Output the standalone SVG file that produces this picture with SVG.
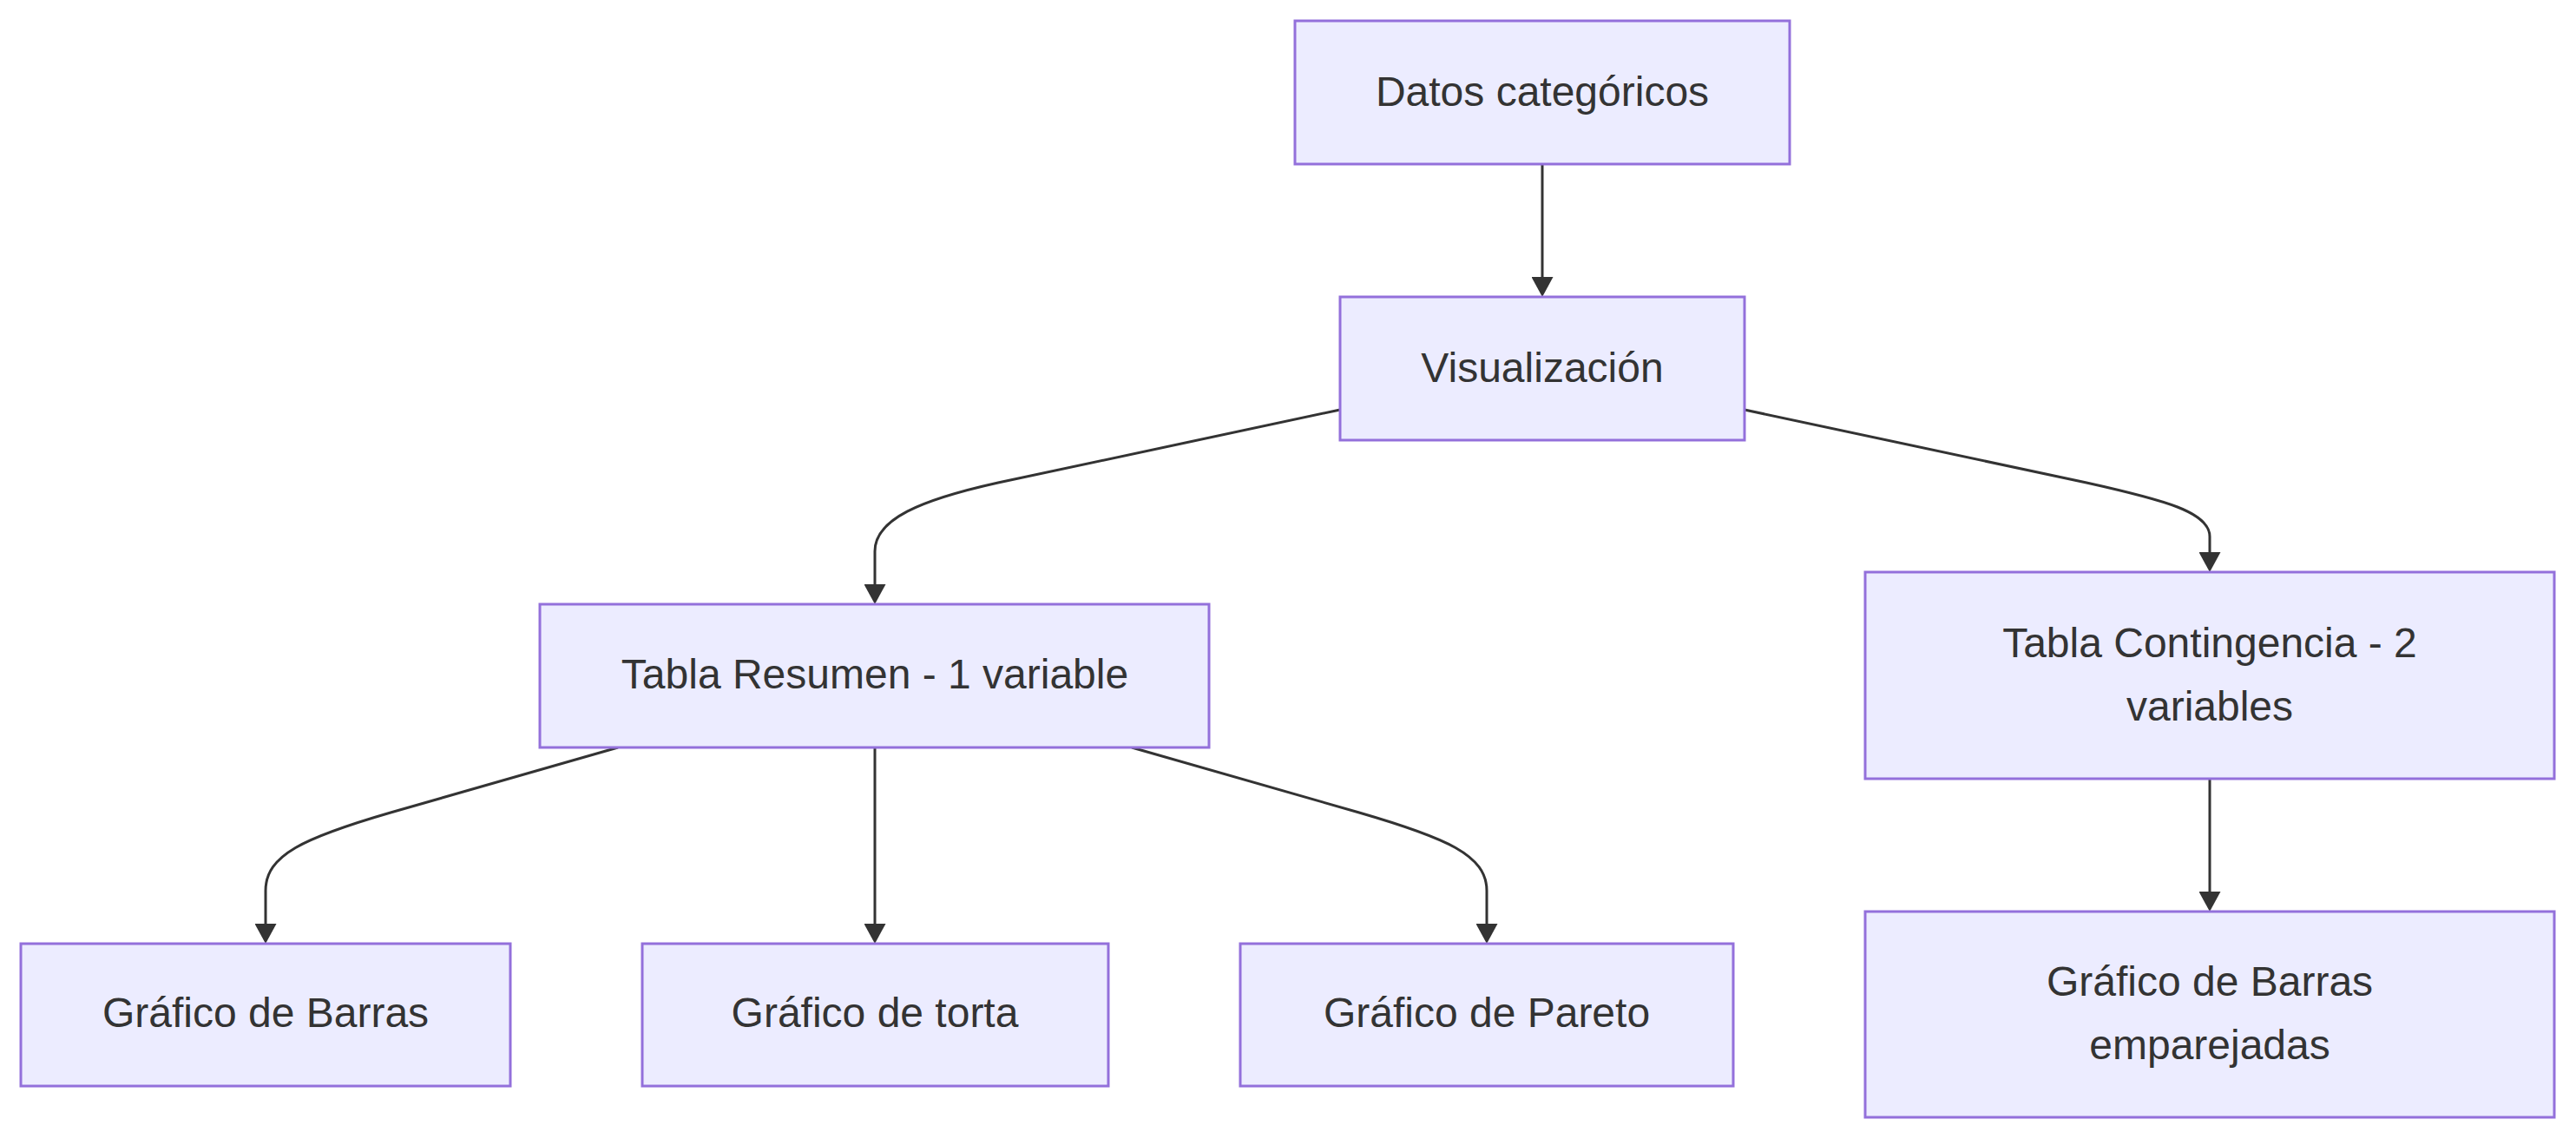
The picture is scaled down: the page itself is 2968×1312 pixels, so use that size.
<svg xmlns="http://www.w3.org/2000/svg" width="2968" height="1312" viewBox="0 0 2968 1312">
<style>
.node rect{fill:#ECECFF;stroke:#9370DB;stroke-width:3}
.node text{font-family:"Liberation Sans",Arial,sans-serif;font-size:48px;fill:#333333;text-anchor:middle}
.edge{fill:none;stroke:#333333;stroke-width:3}
</style>
<defs>
<marker id="arrow" viewBox="0 0 23 25" refX="18" refY="12.5" markerWidth="23" markerHeight="25" markerUnits="userSpaceOnUse" orient="auto">
<path d="M0,0 L23,12.5 L0,25 z" fill="#333333"/>
</marker>
</defs>
<rect width="2968" height="1312" fill="#ffffff"/>
<g id="connectors">
<path class="edge" d="M1777,189 L1777,337" marker-end="url(#arrow)"/>
<path class="edge" d="M1544,472 L1150,556 C1060,576 1008,598 1008,635 L1008,691" marker-end="url(#arrow)"/>
<path class="edge" d="M2010,472 L2404,556 C2494,576 2546,590 2546,618 L2546,654" marker-end="url(#arrow)"/>
<path class="edge" d="M712,861 L450,936 C350,965 306,985 306,1026 L306,1082" marker-end="url(#arrow)"/>
<path class="edge" d="M1008,861 L1008,1082" marker-end="url(#arrow)"/>
<path class="edge" d="M1304,861 L1566,936 C1666,965 1713,985 1713,1026 L1713,1082" marker-end="url(#arrow)"/>
<path class="edge" d="M2546,897 L2546,1045" marker-end="url(#arrow)"/>
</g>
<g id="datos" class="node">
<rect x="1492" y="24" width="570" height="165"/>
<text x="1777" y="122">Datos categóricos</text>
</g>
<g id="visualizacion" class="node">
<rect x="1544" y="342" width="466" height="165"/>
<text x="1777" y="440">Visualización</text>
</g>
<g id="tabla-resumen" class="node">
<rect x="622" y="696" width="771" height="165"/>
<text x="1008" y="793">Tabla Resumen - 1 variable</text>
</g>
<g id="tabla-contingencia" class="node">
<rect x="2149" y="659" width="794" height="238"/>
<text x="2546" y="757">Tabla Contingencia - 2</text>
<text x="2546" y="830">variables</text>
</g>
<g id="grafico-barras" class="node">
<rect x="24" y="1087" width="564" height="164"/>
<text x="306" y="1183">Gráfico de Barras</text>
</g>
<g id="grafico-torta" class="node">
<rect x="740" y="1087" width="537" height="164"/>
<text x="1008" y="1183">Gráfico de torta</text>
</g>
<g id="grafico-pareto" class="node">
<rect x="1429" y="1087" width="568" height="164"/>
<text x="1713" y="1183">Gráfico de Pareto</text>
</g>
<g id="grafico-barras-emparejadas" class="node">
<rect x="2149" y="1050" width="794" height="237"/>
<text x="2546" y="1147">Gráfico de Barras</text>
<text x="2546" y="1220">emparejadas</text>
</g>
</svg>
